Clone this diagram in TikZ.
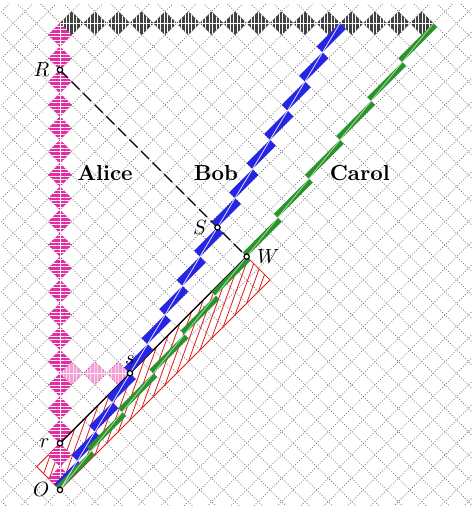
\documentclass[tikz,border=0pt]{standalone}
\usetikzlibrary{patterns,patterns.meta}
\definecolor{pinkc}{RGB}{230,44,162}
\definecolor{grayc}{RGB}{66,66,66}
\definecolor{bluec}{RGB}{38,38,226}
\definecolor{greenc}{RGB}{42,148,42}
\definecolor{redc}{RGB}{228,30,30}
\begin{document}
\begin{tikzpicture}[x=0.2cm,y=0.2cm,
  evt/.style={circle,draw=black,fill=white,line width=0.6pt,inner sep=0pt,minimum size=2.6pt},
  whoname/.style={font=\fontsize{10.6}{12}\selectfont\bfseries},
  gridline/.style={black!55,line width=0.35pt,dash pattern=on 0.45pt off 0.85pt},
  hstripes/.style={pattern={Lines[angle=0,distance=1.7pt,line width=0.22pt]},pattern color=white},
  vstripes/.style={pattern={Lines[angle=90,distance=1.7pt,line width=0.22pt]},pattern color=white},
  wline/.style={white,line width=0.4pt}]
\useasboundingbox (-5.14,-1.46) rectangle (35.48,41.99);
% lattice
\begin{scope}
  \clip (-5.0,-1.3) rectangle (35.35,41.6);
  \foreach \c in {-38,-36,...,48} {
    \draw[gridline] (-6,\c-6) -- (36,\c+36);
  }
  \foreach \c in {-8,-6,...,78} {
    \draw[gridline] (-6,\c+6) -- (36,\c-36);
  }
\end{scope}
% red hatched strip
\begin{scope}
  \clip (0,0) -- (18,18) -- (16,20) -- (-2,2) -- cycle;
  \foreach \a in {-3,...,19} {
    \draw[redc,line width=0.4pt] (\a-4,\a-11) -- (\a+4,\a+11);
  }
\end{scope}
\draw[redc,line width=0.4pt] (0,0) -- (18,18) -- (16,20) -- (-2,2) -- cycle;
% Alice column
\foreach \k in {0,...,19} {
  \fill[pinkc] (0,2*\k) -- (1,2*\k+1) -- (0,2*\k+2) -- (-1,2*\k+1) -- cycle;
  \path[hstripes] (0,2*\k) -- (1,2*\k+1) -- (0,2*\k+2) -- (-1,2*\k+1) -- cycle;
}
% row at T=10
\foreach \x in {1,3,5} {
  \fill[pinkc,opacity=0.45] (\x-1,10) -- (\x,9) -- (\x+1,10) -- (\x,11) -- cycle;
  \path[vstripes,opacity=0.6] (\x-1,10) -- (\x,9) -- (\x+1,10) -- (\x,11) -- cycle;
}
% top row at T=40
\foreach \x in {1,3,...,31} {
  \fill[grayc] (\x-1,40) -- (\x,39) -- (\x+1,40) -- (\x,41) -- cycle;
  \path[vstripes] (\x-1,40) -- (\x,39) -- (\x+1,40) -- (\x,41) -- cycle;
}
\draw[wline] (0,0) -- (0,40);
\draw[wline] (0,10) -- (6,10);
\draw[wline] (0,40) -- (32,40);
% black lines
\coordinate (Rp) at (0,36);
\coordinate (rp) at (0,4);
\coordinate (Wp) at (16,20);
\draw[black,line width=0.6pt] (rp) -- (Wp);
\draw[black,line width=0.6pt,dash pattern=on 5.5pt off 2.5pt] (Rp) -- (Wp);
% Bob and Carol cells (light-cone axes)
\begin{scope}[x={(0.2cm,0.2cm)},y={(-0.2cm,0.2cm)}]
  \foreach \n in {0,...,15} {
    \fill[bluec] (2*\n,\n/2) -- ++(2,0) -- ++(0,0.5) -- ++(-2,0) -- cycle;
  }
  \foreach \n in {0,...,11} {
    \fill[greenc] (3*\n,\n/3) -- ++(3,0) -- ++(0,1/3) -- ++(-3,0) -- cycle;
  }
\end{scope}
\draw[white,opacity=0.85,line width=0.4pt] (0,0) -- (24,40);
\draw[white,opacity=0.6,line width=0.4pt] (0,0) -- (32,40);
% events
\node[evt,label={[label distance=0pt]left:$O$}] (O) at (0,0) {};
\node[evt,label={[label distance=0pt]left:$r$}] (r) at (rp) {};
\node[evt,label={[label distance=-1pt]above:$s$}] (s) at (6,10) {};
\node[evt,label={[label distance=0pt]left:$S$}] (S) at (13.5,22.5) {};
\node[evt,label={[label distance=0pt]right:$W$}] (W) at (Wp) {};
\node[evt,label={[label distance=0pt]left:$R$}] (R) at (Rp) {};
% names
\node[whoname] (alice) at (3.86,27.2) {Alice};
\node[whoname] (bob) at (13.37,27.2) {Bob};
\node[whoname] (carol) at (25.7,27.2) {Carol};
\end{tikzpicture}
\end{document}
